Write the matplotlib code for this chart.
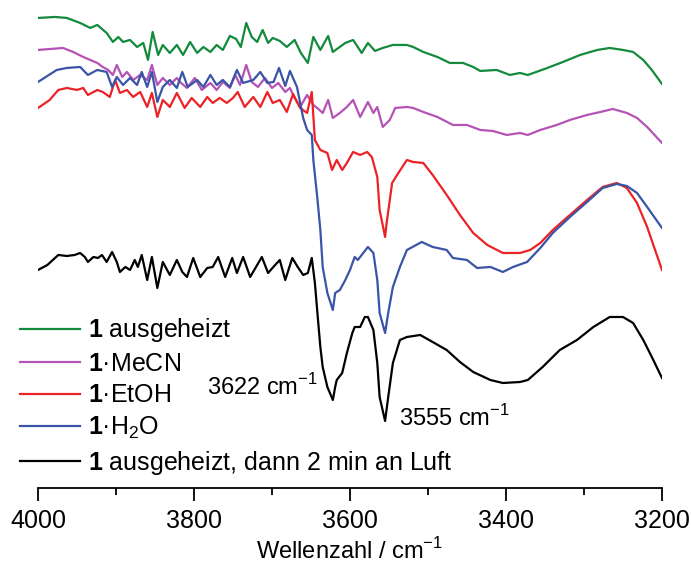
import numpy as np
import matplotlib
matplotlib.use('Agg')
import matplotlib.pyplot as plt
from matplotlib.ticker import MultipleLocator

plt.rcParams['font.family'] = ['Liberation Sans', 'DejaVu Sans']
plt.rcParams['mathtext.fontset'] = 'custom'
plt.rcParams['mathtext.rm'] = 'Liberation Sans'
plt.rcParams['mathtext.bf'] = 'Liberation Sans:bold'

# IR spectra, offset transmission (a.u.)
wn_green = [4000, 3978, 3963, 3946, 3933, 3924, 3912, 3904, 3897, 3891, 3882, 3873, 3865, 3859,
            3853, 3846, 3840, 3831, 3822, 3814, 3805, 3796, 3788, 3779, 3771, 3763, 3754, 3746,
            3740, 3733, 3726, 3719, 3712, 3705, 3699, 3690, 3681, 3671, 3663, 3654, 3647, 3638,
            3628, 3622, 3606, 3596, 3585, 3577, 3568, 3558, 3545, 3527, 3519, 3506, 3488, 3472,
            3455, 3442, 3433, 3412, 3395, 3382, 3372, 3347, 3327, 3305, 3283, 3267, 3250, 3237,
            3224, 3213, 3200]
t_green = [482, 483, 482, 477, 472, 475, 467, 458, 463, 458, 460, 453, 457, 440,
           468, 445, 455, 447, 455, 445, 458, 447, 453, 448, 455, 450, 464, 461,
           453, 477, 463, 458, 470, 457, 462, 459, 453, 460, 447, 437, 463, 450,
           464, 448, 457, 460, 447, 457, 449, 452, 455, 455, 453, 448, 443, 437,
           437, 433, 429, 430, 425, 427, 425, 432, 438, 445, 450, 452, 450, 448,
           440, 430, 416]

wn_mecn = [4000, 3968, 3955, 3942, 3933, 3924, 3917, 3910, 3904, 3899, 3892, 3886, 3878, 3869,
           3860, 3854, 3847, 3840, 3831, 3822, 3818, 3809, 3799, 3790, 3779, 3771, 3763, 3754,
           3747, 3741, 3733, 3726, 3718, 3709, 3700, 3692, 3683, 3677, 3671, 3664, 3655, 3647,
           3642, 3635, 3628, 3622, 3613, 3604, 3596, 3587, 3577, 3570, 3565, 3558, 3549, 3542,
           3527, 3519, 3506, 3488, 3468, 3450, 3433, 3417, 3399, 3382, 3372, 3356, 3335, 3318,
           3296, 3279, 3263, 3245, 3232, 3219, 3200]
t_mecn = [450, 452, 448, 443, 440, 437, 433, 430, 425, 435, 423, 428, 420, 425,
          420, 435, 415, 422, 415, 422, 418, 412, 422, 410, 417, 410, 418, 412,
          425, 415, 435, 418, 413, 422, 412, 417, 408, 412, 402, 393, 405, 395,
          392, 387, 400, 382, 387, 393, 400, 383, 398, 387, 393, 373, 380, 392,
          393, 392, 388, 383, 375, 375, 370, 369, 365, 367, 365, 370, 375, 380,
          385, 388, 391, 387, 382, 373, 357]

wn_etoh = [4000, 3985, 3974, 3963, 3950, 3942, 3936, 3924, 3917, 3908, 3901, 3895, 3886, 3878,
           3869, 3860, 3854, 3847, 3840, 3831, 3822, 3812, 3803, 3792, 3783, 3776, 3767, 3758,
           3750, 3744, 3735, 3724, 3715, 3706, 3699, 3690, 3681, 3673, 3664, 3655, 3649, 3645,
           3638, 3629, 3623, 3617, 3610, 3604, 3596, 3587, 3578, 3572, 3565, 3562, 3555, 3553,
           3546, 3538, 3527, 3519, 3506, 3494, 3476, 3459, 3442, 3424, 3404, 3382, 3369, 3356,
           3340, 3318, 3296, 3276, 3258, 3245, 3232, 3219, 3200]
t_etoh = [392, 400, 410, 412, 410, 412, 405, 410, 408, 403, 420, 407, 410, 403,
          408, 393, 407, 383, 400, 393, 407, 392, 402, 393, 403, 397, 402, 397,
          402, 408, 393, 403, 393, 408, 397, 400, 388, 406, 392, 387, 408, 360,
          350, 347, 330, 340, 330, 337, 348, 345, 348, 343, 323, 290, 263, 277,
          317, 327, 340, 338, 337, 325, 305, 285, 267, 255, 247, 247, 250, 257,
          270, 285, 300, 313, 317, 312, 297, 273, 230]

wn_h2o = [4000, 3976, 3963, 3946, 3936, 3924, 3912, 3905, 3899, 3891, 3882, 3873, 3867, 3860,
          3854, 3847, 3840, 3831, 3822, 3815, 3808, 3796, 3788, 3779, 3771, 3763, 3754, 3745,
          3737, 3724, 3715, 3706, 3698, 3691, 3683, 3677, 3668, 3660, 3655, 3649, 3647, 3642,
          3638, 3635, 3629, 3622, 3619, 3613, 3606, 3600, 3594, 3590, 3583, 3577, 3570, 3565,
          3562, 3555, 3551, 3545, 3536, 3527, 3508, 3494, 3476, 3468, 3450, 3437, 3420, 3404,
          3391, 3373, 3356, 3340, 3318, 3296, 3276, 3258, 3245, 3232, 3219, 3200]
t_h2o = [418, 430, 432, 433, 425, 430, 428, 413, 423, 415, 422, 415, 428, 413,
         428, 398, 413, 420, 412, 428, 413, 420, 413, 425, 415, 420, 413, 430,
         417, 420, 428, 417, 418, 432, 414, 429, 413, 382, 370, 365, 340, 303,
         270, 233, 207, 190, 207, 210, 220, 230, 243, 240, 247, 253, 247, 220,
         187, 167, 187, 213, 233, 250, 258, 253, 250, 242, 240, 232, 233, 228,
         233, 238, 252, 267, 283, 298, 312, 316, 314, 307, 293, 272]

wn_air = [4000, 3988, 3974, 3963, 3953, 3946, 3940, 3936, 3929, 3923, 3918, 3912, 3905, 3899,
          3895, 3888, 3882, 3876, 3872, 3867, 3860, 3854, 3847, 3840, 3831, 3822, 3815, 3809,
          3801, 3792, 3783, 3776, 3769, 3760, 3751, 3745, 3737, 3728, 3719, 3713, 3705, 3696,
          3690, 3683, 3674, 3667, 3660, 3654, 3649, 3645, 3641, 3638, 3635, 3629, 3622, 3619,
          3617, 3610, 3604, 3597, 3594, 3587, 3581, 3577, 3570, 3565, 3562, 3555, 3551, 3545,
          3536, 3527, 3510, 3494, 3476, 3459, 3442, 3420, 3404, 3382, 3372, 3353, 3331, 3309,
          3288, 3267, 3250, 3237, 3224, 3213, 3200]
t_air = [230, 235, 245, 244, 245, 247, 243, 238, 243, 242, 245, 238, 248, 238,
         228, 233, 230, 240, 233, 245, 220, 243, 212, 238, 225, 240, 228, 223,
         242, 223, 232, 233, 243, 223, 242, 227, 243, 223, 235, 243, 227, 235,
         240, 220, 242, 233, 225, 227, 242, 217, 180, 153, 133, 113, 100, 113,
         120, 127, 147, 167, 173, 173, 183, 183, 170, 137, 103, 79, 103, 137,
         160, 163, 165, 158, 150, 138, 128, 120, 117, 118, 120, 133, 150, 160,
         173, 183, 183, 177, 160, 143, 122]

labels = [r'$\mathbf{1}$ ausgeheizt',
          r'$\mathbf{1}$' + '\u00b7MeCN',
          r'$\mathbf{1}$' + '\u00b7EtOH',
          r'$\mathbf{1}$' + '\u00b7H$_2$O',
          r'$\mathbf{1}$ ausgeheizt, dann 2 min an Luft']
colors = ['#138a3c', '#b553b5', '#ec2227', '#3a54a7', '#000000']

fig = plt.figure(figsize=(6.91, 5.63), dpi=100)
ax = fig.add_axes([0.055, 0.1332, 0.903, 0.858])

series = [(wn_green, t_green), (wn_mecn, t_mecn), (wn_etoh, t_etoh),
          (wn_h2o, t_h2o), (wn_air, t_air)]
for (x, y), lab, c in zip(series, labels, colors):
    ax.plot(x, y, color=c, lw=1.6, label=lab)

ax.set_xlim(4000, 3200)
ax.set_ylim(12, 495)
for s in ['top', 'right', 'left']:
    ax.spines[s].set_visible(False)
ax.spines['bottom'].set_linewidth(1.3)
ax.set_yticks([])
ax.xaxis.set_major_locator(MultipleLocator(200))
ax.xaxis.set_minor_locator(MultipleLocator(100))
ax.tick_params(axis='x', which='major', direction='out', length=9, width=1.3,
               labelsize=18, pad=6)
ax.tick_params(axis='x', which='minor', direction='out', length=5, width=1.3)
ax.set_xlabel('Wellenzahl / cm$^{-1}$', fontsize=17, labelpad=4)

ax.text(3641, 113, '3622 cm$^{-1}$', fontsize=17, ha='right', va='center')
ax.text(3537, 82, '3555 cm$^{-1}$', fontsize=17, ha='left', va='center')

ax.legend(loc='upper left', bbox_to_anchor=(0.029, 0.438), bbox_transform=fig.transFigure,
          frameon=False, fontsize=18, handlelength=2.4, handletextpad=0.32,
          labelspacing=0.3, borderaxespad=0, borderpad=0)

fig.savefig('out.png', dpi=100)
